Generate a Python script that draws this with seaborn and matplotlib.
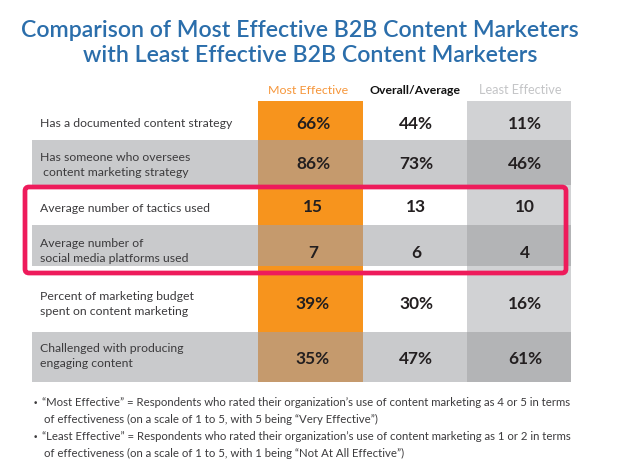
import matplotlib
matplotlib.use("Agg")
import matplotlib.pyplot as plt
import seaborn as sns
from matplotlib import font_manager
from matplotlib.patches import FancyBboxPatch

sns.set_theme(style="white")

title = ["Comparison of Most Effective B2B Content Marketers",
         "with Least Effective B2B Content Marketers"]
groups = ["Most Effective", "Overall/Average", "Least Effective"]
labels = ["Has a documented content strategy",
          "Has someone who oversees\n content marketing strategy",
          "Average number of tactics used",
          "Average number of\nsocial media platforms used",
          "Percent of marketing budget\nspent on content marketing",
          "Challenged with producing\nengaging content"]
most = [66, 86, 15, 7, 39, 35]
overall = [44, 73, 13, 6, 30, 47]
least = [11, 46, 10, 4, 16, 61]
percent = [True, True, False, False, True, True]
notes = ["\u201cMost Effective\u201d = Respondents who rated their organization\u2019s use of content marketing as 4 or 5 in terms\nof effectiveness (on a scale of 1 to 5, with 5 being \u201cVery Effective\u201d)",
         "\u201cLeast Effective\u201d = Respondents who rated their organization\u2019s use of content marketing as 1 or 2 in terms\nof effectiveness (on a scale of 1 to 5, with 1 being \u201cNot At All Effective\u201d)"]

# layout in pixels
col_edges = [32, 258, 363, 467, 571]
row_edges = [101, 140, 185, 225, 266, 332, 382]
value_x = [313, 416, 525]
value_base = [129, 169, 212, 258, 309, 364]
label_base = [127, 161, 212, 247, 300, 352]
head_x = [308, 415, 520]

names = {f.name for f in font_manager.fontManager.ttflist}
narrow = "Liberation Sans Narrow" if "Liberation Sans Narrow" in names else "Lato"

fig = plt.figure(figsize=(6.18, 4.65), dpi=100)
ax = fig.add_axes([0, 0, 1, 1])
ax.set_xlim(0, 618)
ax.set_ylim(465, 0)
ax.axis("off")
renderer = fig.canvas.get_renderer()


def fit(t, width):
    bb = t.get_window_extent(renderer)
    t.set_fontsize(t.get_fontsize() * width / bb.width)
    return t.get_fontsize()


# cell backgrounds
col_colors = [("white", "#c9cacc"), ("#f7941d", "#c59a6d"),
              ("white", "#c9cacc"), ("#d1d2d4", "#b3b4b6")]
for c in range(4):
    for r in range(len(labels)):
        ax.barh((row_edges[r] + row_edges[r + 1]) / 2, col_edges[c + 1] - col_edges[c],
                left=col_edges[c], height=row_edges[r + 1] - row_edges[r],
                color=col_colors[c][r % 2], linewidth=0)

# title
t1 = ax.text(300, 37, title[0], ha="center", va="baseline", color="#2b6eab",
             family="Lato", weight="semibold", fontsize=18)
fs = fit(t1, 556)
ax.text(310, 62, title[1], ha="center", va="baseline", color="#2b6eab",
        family="Lato", weight="semibold", fontsize=fs)

# column headers
head_colors = ["#f6963a", "#111111", "#c4c5c7"]
head_w = [80, 91, 83]
for x, g, c, w in zip(head_x, groups, head_colors, head_w):
    t = ax.text(x, 94, g, ha="center", va="baseline", color=c, family=narrow,
                weight="bold" if g == "Overall/Average" else "normal", fontsize=10)
    fit(t, w)

# row labels
t = ax.text(40, 0, labels[0], fontsize=11, family=narrow)
lfs = fit(t, 192)
t.remove()
for lab, yb in zip(labels, label_base):
    for i, line in enumerate(lab.split("\n")):
        ax.text(40, yb + i * 15, line, ha="left", va="baseline", color="#3c3b3d",
                family=narrow, fontsize=lfs)

# values
t = ax.text(0, 0, "66%", fontsize=12, family=narrow, weight="bold")
vfs = fit(t, 34)
t.remove()
for vals, x in zip([most, overall, least], value_x):
    for v, p, yb in zip(vals, percent, value_base):
        ax.text(x, yb, f"{v}%" if p else f"{v}", ha="center", va="baseline",
                color="#231f20", family=narrow, weight="bold", fontsize=vfs)

# highlight box
box = FancyBboxPatch((25, 187), 541, 86, boxstyle="round,pad=0,rounding_size=4",
                     fill=False, edgecolor="#ee1b5b", linewidth=3.4)
ax.add_patch(box)

# footnotes
t = ax.text(0, 0, notes[0].split("\n")[0], fontsize=9, family=narrow)
nfs = fit(t, 529)
t.remove()
note_base = [406, 440]
for n, yb in zip(notes, note_base):
    ax.text(33, yb, "\u2022", ha="left", va="baseline", color="#3c3b3d",
            family="DejaVu Sans", fontsize=nfs * 0.8)
    for i, line in enumerate(n.split("\n")):
        ax.text(42 if i == 0 else 44, yb + i * 17, line, ha="left", va="baseline",
                color="#3c3b3d", family=narrow, fontsize=nfs)

plt.savefig("out.png", dpi=100)
